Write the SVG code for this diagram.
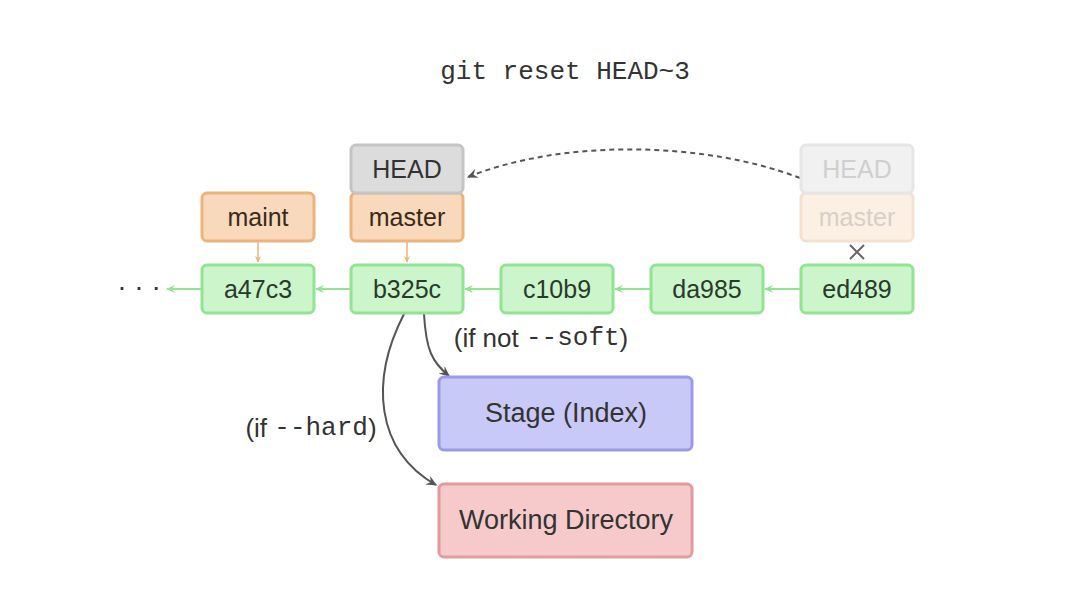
<svg xmlns="http://www.w3.org/2000/svg" width="1080" height="613" viewBox="0 0 1080 613">
<defs>
<style>
.t{font-family:"Liberation Sans",Arial,sans-serif;font-size:25px;text-anchor:middle;dominant-baseline:central;}
.b{font-size:26px;}
.m{font-family:"Liberation Mono","Courier New",monospace;}
.commit rect{fill:#ccf5cc;stroke:#92e492;stroke-width:3;}
.commit text{fill:#2a3a2a;}
.branch rect{fill:#f8d9bb;stroke:#eab47a;stroke-width:3;}
.branch text{fill:#3a2a1a;}
.head rect{fill:#dcdcdc;stroke:#c4c4c4;stroke-width:3;}
.head text{fill:#333;}
.ghost rect{stroke-width:3;}
.gl{stroke:#92e492;stroke-width:2;fill:none;}
.ol{stroke:#eab47a;stroke-width:1.5;fill:none;}
.dk{stroke:#555;stroke-width:2;fill:none;}
</style>
<marker id="ag" viewBox="0 0 10 10" refX="8" refY="5" markerWidth="5" markerHeight="5" orient="auto"><path d="M0,1 L9,5 L0,9 L3,5 z" fill="#92e492"/></marker>
<marker id="ao" viewBox="0 0 10 10" refX="8" refY="5" markerWidth="5" markerHeight="5" orient="auto"><path d="M0,1 L9,5 L0,9 L3,5 z" fill="#eab47a"/></marker>
<marker id="ad" viewBox="0 0 10 10" refX="8" refY="5" markerWidth="6" markerHeight="6" orient="auto"><path d="M0,1 L9,5 L0,9 L3,5 z" fill="#555"/></marker>
</defs>
<rect width="1080" height="613" fill="#ffffff"/>
<text class="t m" x="565" y="72" style="font-size:26px" fill="#333">git reset HEAD~3</text>

<g id="connectors">
<path class="gl" d="M201,289 L167,289" marker-end="url(#ag)"/>
<path class="gl" d="M350,289 L316,289" marker-end="url(#ag)"/>
<path class="gl" d="M500,289 L465,289" marker-end="url(#ag)"/>
<path class="gl" d="M650,289 L615,289" marker-end="url(#ag)"/>
<path class="gl" d="M800,289 L765,289" marker-end="url(#ag)"/>
<path class="ol" d="M258,242 L258,262" marker-end="url(#ao)"/>
<path class="ol" d="M407,242 L407,262" marker-end="url(#ao)"/>
<path class="dk" d="M800,178 C700,140 560,140 468,177" stroke-dasharray="5,4" marker-end="url(#ad)"/>
<path class="dk" d="M424,314 C426,350 432,362 449,376" marker-end="url(#ad)"/>
<path class="dk" d="M404,314 C370,380 375,450 436,485" marker-end="url(#ad)"/>
<path d="M850,245 L864,259 M864,245 L850,259" stroke="#666" stroke-width="2"/>
</g>

<text class="t" x="139" y="286" style="font-size:28px" fill="#333">· · ·</text>

<g id="a47c3" class="commit"><rect x="202" y="265" width="112" height="48" rx="5"/><text class="t" x="258" y="289">a47c3</text></g>
<g id="b325c" class="commit"><rect x="351" y="265" width="112" height="48" rx="5"/><text class="t" x="407" y="289">b325c</text></g>
<g id="c10b9" class="commit"><rect x="501" y="265" width="112" height="48" rx="5"/><text class="t" x="557" y="289">c10b9</text></g>
<g id="da985" class="commit"><rect x="651" y="265" width="112" height="48" rx="5"/><text class="t" x="707" y="289">da985</text></g>
<g id="ed489" class="commit"><rect x="801" y="265" width="112" height="48" rx="5"/><text class="t" x="857" y="289">ed489</text></g>

<g id="maint" class="branch"><rect x="202" y="193" width="112" height="48" rx="5"/><text class="t" x="258" y="217">maint</text></g>
<g id="master" class="branch"><rect x="351" y="193" width="112" height="48" rx="5"/><text class="t" x="407" y="217">master</text></g>
<g id="HEAD" class="head"><rect x="351" y="145" width="112" height="48" rx="5"/><text class="t" x="407" y="169">HEAD</text></g>

<g id="ghost-master" class="ghost"><rect x="801" y="193" width="112" height="48" rx="5" fill="#fcf0e4" stroke="#f6e2cc"/><text class="t" x="857" y="217" fill="#d8cfc6">master</text></g>
<g id="ghost-HEAD" class="ghost"><rect x="801" y="145" width="112" height="48" rx="5" fill="#f1f1f1" stroke="#e6e6e6"/><text class="t" x="857" y="169" fill="#cfcfcf">HEAD</text></g>

<g id="stage"><rect x="439" y="377" width="253" height="73" rx="5" fill="#c9c9f8" stroke="#9a9aea" stroke-width="3"/><text class="t" x="566" y="413" style="font-size:27px" fill="#333">Stage (Index)</text></g>
<g id="workdir"><rect x="439" y="484" width="253" height="73" rx="5" fill="#f6caca" stroke="#e49a9a" stroke-width="3"/><text class="t" x="566" y="520" style="font-size:27px" fill="#333">Working Directory</text></g>

<text class="t b" x="541" y="338" fill="#333">(if not <tspan class="m">--soft</tspan>)</text>
<text class="t b" x="311" y="428" fill="#333">(if <tspan class="m">--hard</tspan>)</text>
</svg>
